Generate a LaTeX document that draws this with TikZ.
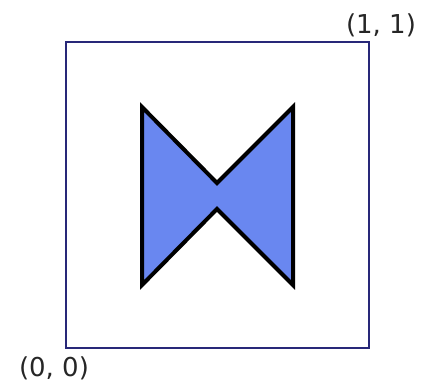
\documentclass[tikz,border=0pt]{standalone}
\usepackage{fontspec}
\setmainfont{DejaVu Sans}
\definecolor{frame}{RGB}{40,40,120}
\definecolor{bowfill}{RGB}{105,135,240}
\tikzset{
  framebox/.style={draw=frame, line width=2pt},
  bowtie/.style={draw=black, line width=4pt, fill=bowfill, line join=miter},
  corner/.style={font=\fontsize{26}{30}\selectfont, inner sep=0pt, text=black!85}
}
\begin{document}
\begin{tikzpicture}[x=1pt,y=-1pt]
\useasboundingbox (0,0) rectangle (427,387);
\fill[white] (0,0) rectangle (427,387);
\coordinate (bl) at (66,348);
\coordinate (tr) at (369,42);
\draw[framebox] (bl) rectangle (tr);
\coordinate (lt) at (142,107);
\coordinate (ct) at (217,183);
\coordinate (rt) at (293,107);
\coordinate (rb) at (293,285);
\coordinate (cb) at (217,209);
\coordinate (lb) at (142,285);
\draw[bowtie] (lt) -- (ct) -- (rt) -- (rb) -- (cb) -- (lb) -- cycle;
\node[corner] (n11) at (381,25) {(1, 1)};
\node[corner] (n00) at (54,368) {(0, 0)};
\end{tikzpicture}
\end{document}
